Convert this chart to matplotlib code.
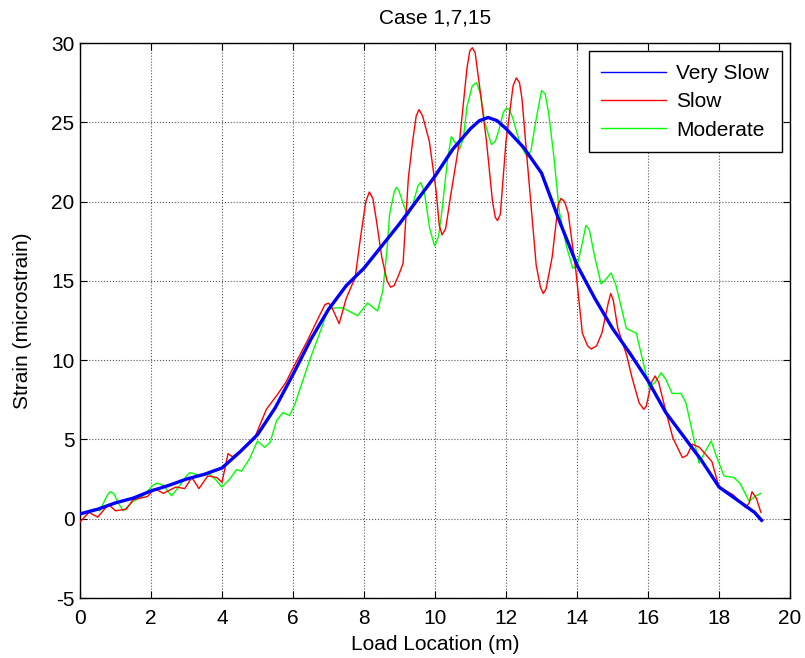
import numpy as np
import matplotlib
matplotlib.use("Agg")
import matplotlib.pyplot as plt

plt.rcParams['font.family'] = ['Liberation Sans', 'DejaVu Sans']
plt.rcParams['axes.unicode_minus'] = False

# load location (m) / strain (microstrain)
very_slow_x = [0, 0.5, 1, 1.5, 2, 2.5, 3, 3.5, 4, 4.5, 5, 5.5, 6, 6.5, 7, 7.5, 8, 8.5, 9, 9.5,
               10, 10.5, 11, 11.25, 11.5, 11.75, 12, 12.5, 13, 13.5, 14, 14.5, 15, 15.5, 16, 16.5,
               17, 17.5, 18, 18.5, 19, 19.2]
very_slow_y = [0.3, 0.6, 1.0, 1.3, 1.75, 2.1, 2.5, 2.8, 3.2, 4.2, 5.3, 7.0, 9.1, 11.3, 13.2, 14.7,
               15.8, 17.2, 18.6, 20.1, 21.6, 23.3, 24.6, 25.1, 25.3, 25.1, 24.6, 23.4, 21.8, 18.8,
               16.0, 13.9, 12.0, 10.4, 8.7, 6.7, 5.2, 3.7, 2.0, 1.2, 0.4, -0.1]

slow_x = [0, 0.25, 0.5, 0.8, 1.0, 1.3, 1.5, 1.9, 2.1, 2.35, 2.7, 2.95, 3.15, 3.35, 3.6, 3.85,
          4.0, 4.17, 4.3, 4.7, 4.9, 5.25, 5.55, 5.8, 6.0, 6.4, 6.7, 6.9, 7.0, 7.1, 7.3, 7.5, 7.75,
          7.9, 8.05, 8.15, 8.25, 8.35, 8.5, 8.65, 8.75, 8.85, 9.0, 9.1, 9.25, 9.37, 9.47, 9.55,
          9.65, 9.84, 10.03, 10.12, 10.2, 10.3, 10.45, 10.69, 10.9, 10.98, 11.05, 11.13, 11.3,
          11.45, 11.62, 11.7, 11.76, 11.84, 12.0, 12.2, 12.29, 12.38, 12.45, 12.6, 12.85, 12.97,
          13.05, 13.13, 13.3, 13.47, 13.55, 13.65, 13.75, 13.97, 14.15, 14.3, 14.4, 14.55, 14.7,
          14.88, 14.95, 15.02, 15.15, 15.4, 15.55, 15.75, 15.88, 15.95, 16.1, 16.2, 16.3, 16.5,
          16.7, 16.97, 17.1, 17.25, 17.45, 17.8, 18.0, 18.4, 18.75, 18.85, 18.93, 19.05, 19.18]
slow_y = [-0.2, 0.4, 0.1, 0.9, 0.5, 0.6, 1.2, 1.4, 1.9, 1.6, 2.0, 1.9, 2.6, 1.9, 2.7, 2.6,
          2.3, 4.1, 3.9, 4.6, 5.0, 6.9, 7.8, 8.6, 9.5, 11.2, 12.6, 13.5, 13.6, 13.3, 12.3, 13.9,
          15.2, 17.7, 20.0, 20.6, 20.2, 18.8, 16.5, 15.0, 14.6, 14.7, 15.5, 16.1, 21.5, 23.8,
          25.4, 25.8, 25.4, 23.8, 20.7, 18.5, 17.9, 18.3, 20.5, 23.8, 28.4, 29.5, 29.7, 29.4,
          26.5, 23.8, 20.0, 19.0, 18.8, 19.2, 23.8, 27.3, 27.8, 27.5, 26.5, 22.5, 16.0, 14.6,
          14.2, 14.5, 16.5, 19.8, 20.2, 20.0, 19.3, 15.6, 11.7, 10.9, 10.7, 10.9, 11.7, 13.6,
          14.2, 13.8, 12.0, 10.3, 8.9, 7.3, 6.9, 7.1, 8.6, 9.0, 8.6, 6.8, 5.1, 3.85, 4.0, 4.7,
          4.5, 3.6, 2.0, 1.5, 0.7, 1.0, 1.7, 1.3, 0.4]

moderate_x = [0, 0.37, 0.56, 0.75, 0.84, 0.95, 1.1, 1.22, 1.5, 1.78, 2.05, 2.17, 2.35, 2.58, 2.81,
              3.0, 3.09, 3.2, 3.38, 3.66, 3.85, 3.99, 4.22, 4.41, 4.55, 4.78, 5.0, 5.2, 5.35, 5.54,
              5.72, 5.9, 6.05, 6.47, 6.8, 6.98, 7.2, 7.4, 7.82, 8.1, 8.38, 8.53, 8.65, 8.72, 8.85,
              8.91, 8.98, 9.1, 9.23, 9.35, 9.52, 9.6, 9.7, 9.85, 9.99, 10.1, 10.2, 10.35, 10.46,
              10.6, 10.69, 10.8, 10.9, 11.05, 11.17, 11.28, 11.4, 11.59, 11.7, 11.8, 11.92, 12.01,
              12.1, 12.2, 12.4, 12.6, 12.7, 12.85, 13.0, 13.1, 13.2, 13.35, 13.5, 13.7, 13.88,
              14.0, 14.15, 14.25, 14.35, 14.5, 14.68, 14.85, 14.96, 15.1, 15.39, 15.67, 15.85,
              16.03, 16.2, 16.37, 16.5, 16.68, 16.93, 17.07, 17.44, 17.6, 17.78, 17.95, 18.14,
              18.42, 18.6, 18.85, 19.04, 19.18]
moderate_y = [0.3, 0.6, 0.5, 1.4, 1.7, 1.6, 0.9, 0.5, 1.1, 1.45, 2.1, 2.25, 2.1, 1.45, 2.1,
              2.7, 2.9, 2.85, 2.7, 2.8, 2.4, 2.0, 2.5, 3.1, 3.0, 3.8, 4.9, 4.5, 4.8, 6.2,
              6.7, 6.5, 7.2, 10.0, 12.0, 13.2, 13.3, 13.3, 12.8, 13.6, 13.1, 14.4, 17.0, 19.2, 20.6,
              20.9, 20.7, 19.9, 19.1, 19.6, 21.0, 21.2, 20.6, 18.3, 17.2, 17.8, 19.5, 22.6, 24.1,
              23.6, 23.3, 24.0, 26.0, 27.3, 27.5, 26.8, 25.0, 23.6, 23.8, 24.5, 25.6, 25.9,
              25.8, 25.2, 23.6, 22.8, 23.2, 25.2, 27.0, 26.8, 25.6, 22.8, 19.4, 17.2, 15.8,
              15.9, 17.4, 18.5, 18.2, 16.5, 14.8, 15.2, 15.5, 14.7, 12.0, 11.7, 10.0,
              8.3, 8.6, 9.2, 8.8, 7.9, 7.9, 7.3, 3.5, 4.2, 4.9, 3.8, 2.7,
              2.6, 2.2, 1.1, 1.45, 1.6]

fig = plt.figure(figsize=(8.05, 6.58), dpi=100)
ax = fig.add_axes([80 / 805, 1 - 598 / 658, 710 / 805, 555 / 658])

ax.plot(very_slow_x, very_slow_y, color='#0000ff', lw=2.4, label='Very Slow', zorder=4)
ax.plot(slow_x, slow_y, color='#ff0000', lw=1.0, label='Slow', zorder=3)
ax.plot(moderate_x, moderate_y, color='#00ff00', lw=1.0, label='Moderate', zorder=2)

ax.set_xlim(0, 20)
ax.set_ylim(-5, 30)
ax.set_xticks(np.arange(0, 21, 2))
ax.set_yticks(np.arange(-5, 31, 5))
ax.grid(True, linestyle=':', color='#555555', lw=0.8)
ax.tick_params(direction='in', top=True, right=True, labelsize=15, length=5, pad=4)
ax.tick_params(axis='x', pad=8)
for s in ax.spines.values():
    s.set_linewidth(1.0)

ax.set_xlabel('Load Location (m)', fontsize=15, labelpad=5)
ax.set_ylabel('Strain (microstrain)', fontsize=15, labelpad=14)
ax.set_title('Case 1,7,15', fontsize=15, pad=14)

leg = ax.legend(loc='upper right', fontsize=15, fancybox=False, framealpha=1,
                edgecolor='k', handlelength=3.1, handletextpad=0.5, labelspacing=0.45,
                borderpad=0.6, borderaxespad=0.4)
leg.get_frame().set_linewidth(1.0)
for line in leg.get_lines():
    line.set_linewidth(1.0)

fig.savefig('out.png', dpi=100)
